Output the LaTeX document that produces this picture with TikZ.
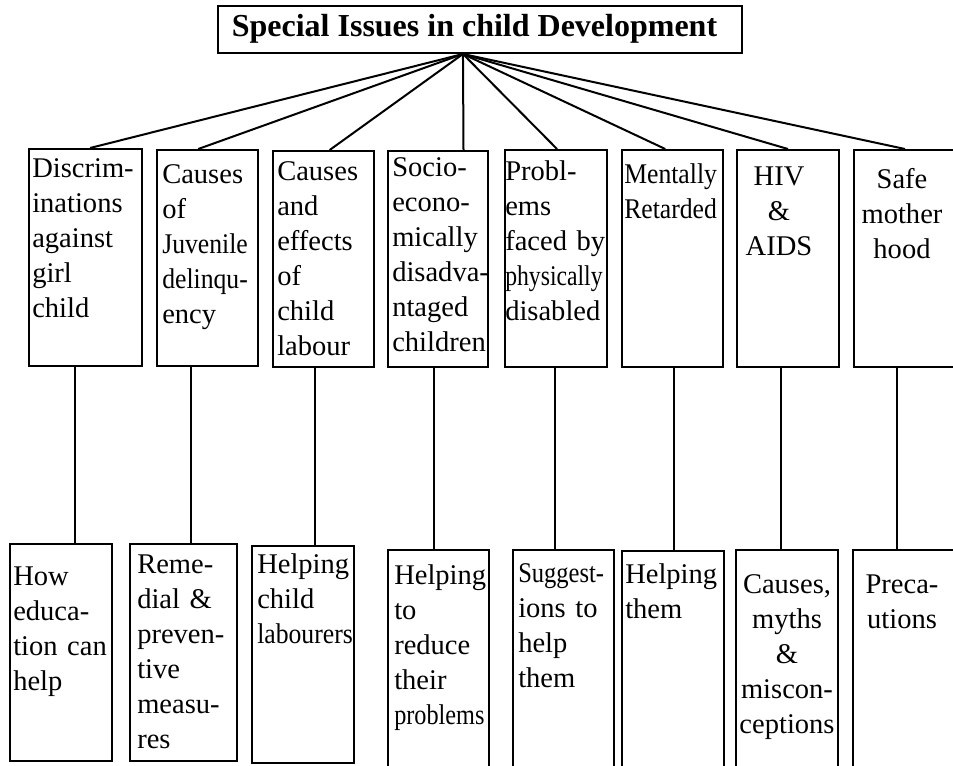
\documentclass[tikz,border=0pt]{standalone}
\usepackage{fontspec}
\setmainfont{Liberation Serif}
\usepackage{graphicx}
\usetikzlibrary{fit,calc}
\newcommand\hsq[2]{\scalebox{#1}[1]{#2}}
\begin{document}
\begin{tikzpicture}[x=0.75pt,y=-0.75pt,
  bx/.style={draw,line width=1.5pt,inner sep=0pt,rectangle},
  ln/.style={line width=1.5pt},
  txt/.style={anchor=base west,inner sep=0pt,align=left,text width=110pt,
    font=\fontsize{21.4}{26.25}\selectfont},
  ctxt/.style={anchor=base,inner sep=0pt,align=center,text width=110pt,
    font=\fontsize{21.4}{26.25}\selectfont}]
\useasboundingbox (0,0) rectangle (953,765);
\clip (0,0) rectangle (953,765);
\fill[white] (0,0) rectangle (953,765);
% title
\node[bx,fit={(218,6) (742,53)}] (title) {};
\node[inner sep=0pt,anchor=base,font=\fontsize{24}{28}\selectfont\bfseries] (titletxt) at (474.5,36) {Special Issues in child Development};
\coordinate (hub) at ($(title.south west)!0.4676!(title.south east)$);
% top boxes
\node[bx,fit={(29,149) (142,366)}] (t1) {};
\node[bx,fit={(157,150) (258,366)}] (t2) {};
\node[bx,fit={(273,151) (374,367)}] (t3) {};
\node[bx,fit={(388,151) (488,367)}] (t4) {};
\node[bx,fit={(505,150) (607,367)}] (t5) {};
\node[bx,fit={(622,150) (723,367)}] (t6) {};
\node[bx,fit={(737,150) (839,367)}] (t7) {};
\node[bx,fit={(854,150) (965,367)}] (t8) {};
% bottom boxes
\node[bx,fit={(10,544) (112,761)}] (b1) {};
\node[bx,fit={(130,544) (237,761)}] (b2) {};
\node[bx,fit={(252,546) (354,763)}] (b3) {};
\node[bx,fit={(388,550) (489,790)}] (b4) {};
\node[bx,fit={(513,550) (614,790)}] (b5) {};
\node[bx,fit={(622,551) (724,790)}] (b6) {};
\node[bx,fit={(736,550) (838,790)}] (b7) {};
\node[bx,fit={(853,550) (965,790)}] (b8) {};
% top texts
\node[txt] (t1x) at (32,177) {Discrim-\\inations\\against\\girl\\child};
\node[txt] (t2x) at (162,183) {Causes\\of\\\hsq{0.9}{Juvenile}\\\hsq{0.9}{delinqu-}\\ency};
\node[txt] (t3x) at (277,180) {Causes\\and\\effects\\of\\child\\labour};
\node[txt] (t4x) at (392,176) {Socio-\\econo-\\mically\\disadva-\\ntaged\\children};
\node[txt] (t5x) at (505,180) {Probl-\\ems\\faced by\\\hsq{0.83}{physically}\\disabled};
\node[txt] (t6x) at (624,183) {\hsq{0.9}{Mentally}\\\hsq{0.9}{Retarded}};
\node[ctxt] (t7x) at (779,185) {HIV\\\&\\AIDS};
\node[ctxt] (t8x) at (902,188) {Safe\\mother\\hood};
% bottom texts
\node[txt] (b1x) at (13,585) {How\\educa-\\tion can\\help};
\node[txt] (b2x) at (137,573) {Reme-\\dial \&\\preven-\\tive\\measu-\\res};
\node[txt] (b3x) at (257,573) {Helping\\child\\\hsq{0.9}{labourers}};
\node[txt] (b4x) at (394,584) {Helping\\to\\reduce\\their\\\hsq{0.85}{problems}};
\node[txt] (b5x) at (518,582) {\hsq{0.86}{Suggest-}\\ions to\\help\\them};
\node[txt] (b6x) at (625,583) {Helping\\them};
\node[ctxt] (b7x) at (787,593) {Causes,\\myths\\\&\\miscon-\\ceptions};
\node[ctxt] (b8x) at (902,593) {Preca-\\utions};
% connectors from hub
\draw[ln] (hub) -- ($(t1.north west)!0.54!(t1.north east)$);
\draw[ln] (hub) -- ($(t2.north west)!0.41!(t2.north east)$);
\draw[ln] (hub) -- ($(t3.north west)!0.56!(t3.north east)$);
\draw[ln] (hub) -- ($(t4.north west)!0.75!(t4.north east)$);
\draw[ln] (hub) -- ($(t5.north west)!0.51!(t5.north east)$);
\draw[ln] (hub) -- ($(t6.north west)!0.43!(t6.north east)$);
\draw[ln] (hub) -- ($(t7.north west)!0.50!(t7.north east)$);
\draw[ln] (hub) -- ($(t8.north west)!0.46!(t8.north east)$);
% vertical connectors
\draw[ln] ($(t1.south west)!0.41!(t1.south east)$) coordinate (v1) -- (v1 |- b1.north);
\draw[ln] ($(t2.south west)!0.34!(t2.south east)$) coordinate (v2) -- (v2 |- b2.north);
\draw[ln] ($(t3.south west)!0.42!(t3.south east)$) coordinate (v3) -- (v3 |- b3.north);
\draw[ln] ($(t4.south west)!0.46!(t4.south east)$) coordinate (v4) -- (v4 |- b4.north);
\draw[ln] ($(t5.south west)!0.49!(t5.south east)$) coordinate (v5) -- (v5 |- b5.north);
\draw[ln] ($(t6.south west)!0.51!(t6.south east)$) coordinate (v6) -- (v6 |- b6.north);
\draw[ln] ($(t7.south west)!0.43!(t7.south east)$) coordinate (v7) -- (v7 |- b7.north);
\draw[ln] ($(t8.south west)!0.39!(t8.south east)$) coordinate (v8) -- (v8 |- b8.north);
\end{tikzpicture}
\end{document}
